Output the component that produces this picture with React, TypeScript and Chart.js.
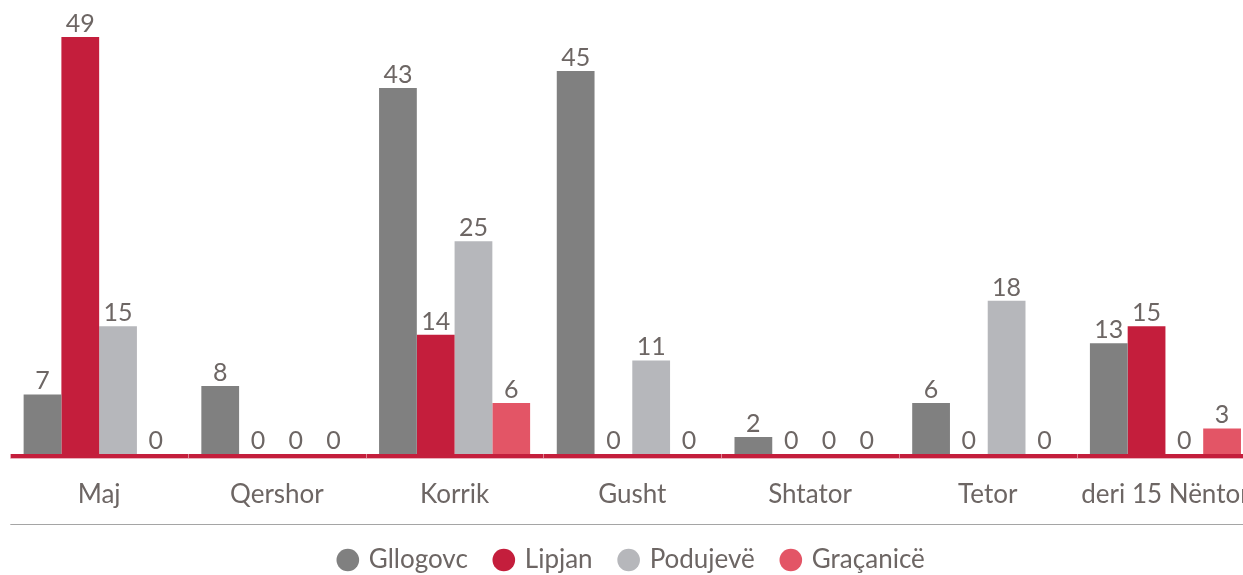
import React, { useEffect, useRef } from "react";
import { Chart, registerables } from "chart.js";
Chart.register(...registerables);

const categories = ["Maj", "Qershor", "Korrik", "Gusht", "Shtator", "Tetor", "deri 15 Nëntor"];
const seriesNames = ["Gllogovc", "Lipjan", "Podujevë", "Graçanicë"];
const gllogovc = [7, 8, 43, 45, 2, 6, 13];
const lipjan = [49, 0, 14, 0, 0, 0, 15];
const podujeve = [15, 0, 25, 11, 0, 18, 0];
const gracanice = [0, 0, 6, 0, 0, 0, 3];
const seriesColors = ["#808080", "#c41e3c", "#b6b7bb", "#e35566"];

const TEXT = "#6d6664";
const FONT = "Lato, 'Open Sans', sans-serif";

const decor = {
  id: "decor",
  afterDatasetsDraw(chart: any) {
    const { ctx, chartArea, scales } = chart;
    const xs = scales.x;
    const w = (chartArea.right - chartArea.left) / categories.length;
    const b = Math.round(chartArea.bottom);
    ctx.save();
    ctx.fillStyle = "#c41e3c";
    ctx.fillRect(chartArea.left, b, chartArea.right - chartArea.left, 4);
    ctx.fillStyle = "rgba(196,30,60,0.35)";
    ctx.fillRect(chartArea.left, b + 4, chartArea.right - chartArea.left, 1);
    ctx.fillStyle = "rgba(255,255,255,0.45)";
    for (let i = 0; i <= categories.length; i++) {
      const px = Math.round(xs.getPixelForValue(i) - w / 2);
      ctx.fillRect(px, b, 1, 4);
    }
    ctx.fillStyle = "#a5a5a5";
    ctx.fillRect(chartArea.left, b + 70, chartArea.right - chartArea.left, 1);
    ctx.font = `25px ${FONT}`;
    ctx.fillStyle = TEXT;
    ctx.textAlign = "center";
    ctx.textBaseline = "alphabetic";
    chart.data.datasets.forEach((ds: any, di: number) => {
      const meta = chart.getDatasetMeta(di);
      meta.data.forEach((bar: any, i: number) => {
        ctx.fillText(String(ds.data[i]), bar.x, bar.y - 5);
      });
    });
    ctx.restore();
  },
};

export default function App() {
  const ref = useRef<HTMLCanvasElement>(null);
  useEffect(() => {
    if (!ref.current) return;
    const data = [gllogovc, lipjan, podujeve, gracanice];
    const chart = new Chart(ref.current, {
      type: "bar",
      data: {
        labels: categories,
        datasets: seriesNames.map((name, i) => ({
          label: name,
          data: data[i],
          backgroundColor: seriesColors[i],
          borderWidth: 0,
          barPercentage: 1,
          categoryPercentage: 0.85,
        })),
      },
      options: {
        responsive: false,
        animation: false,
        layout: { padding: { left: 10.3, right: 3.7, top: 0, bottom: 0 } },
        scales: {
          x: {
            grid: { display: false, drawTicks: true, tickLength: 25 },
            border: { display: false },
            ticks: { color: TEXT, font: { family: FONT, size: 26 }, padding: 0 },
            afterFit: (s: any) => {
              s.height = 65;
            },
          },
          y: {
            display: false,
            min: 0,
            max: 53.35,
          },
        },
        plugins: {
          legend: {
            position: "bottom",
            labels: {
              usePointStyle: true,
              pointStyle: "circle",
              boxWidth: 16,
              boxHeight: 16,
              padding: 28,
              color: TEXT,
              font: { family: FONT, size: 26 },
            },
          },
          tooltip: { enabled: false },
        },
      },
      plugins: [decor],
    });
    return () => chart.destroy();
  }, []);
  return (
    <div
      style={{
        position: "fixed",
        left: 0,
        top: 0,
        width: 1243,
        height: 575,
        overflow: "hidden",
        background: "#fff",
      }}
    >
      <canvas ref={ref} width={1258} height={583} style={{ display: "block" }} />
    </div>
  );
}
